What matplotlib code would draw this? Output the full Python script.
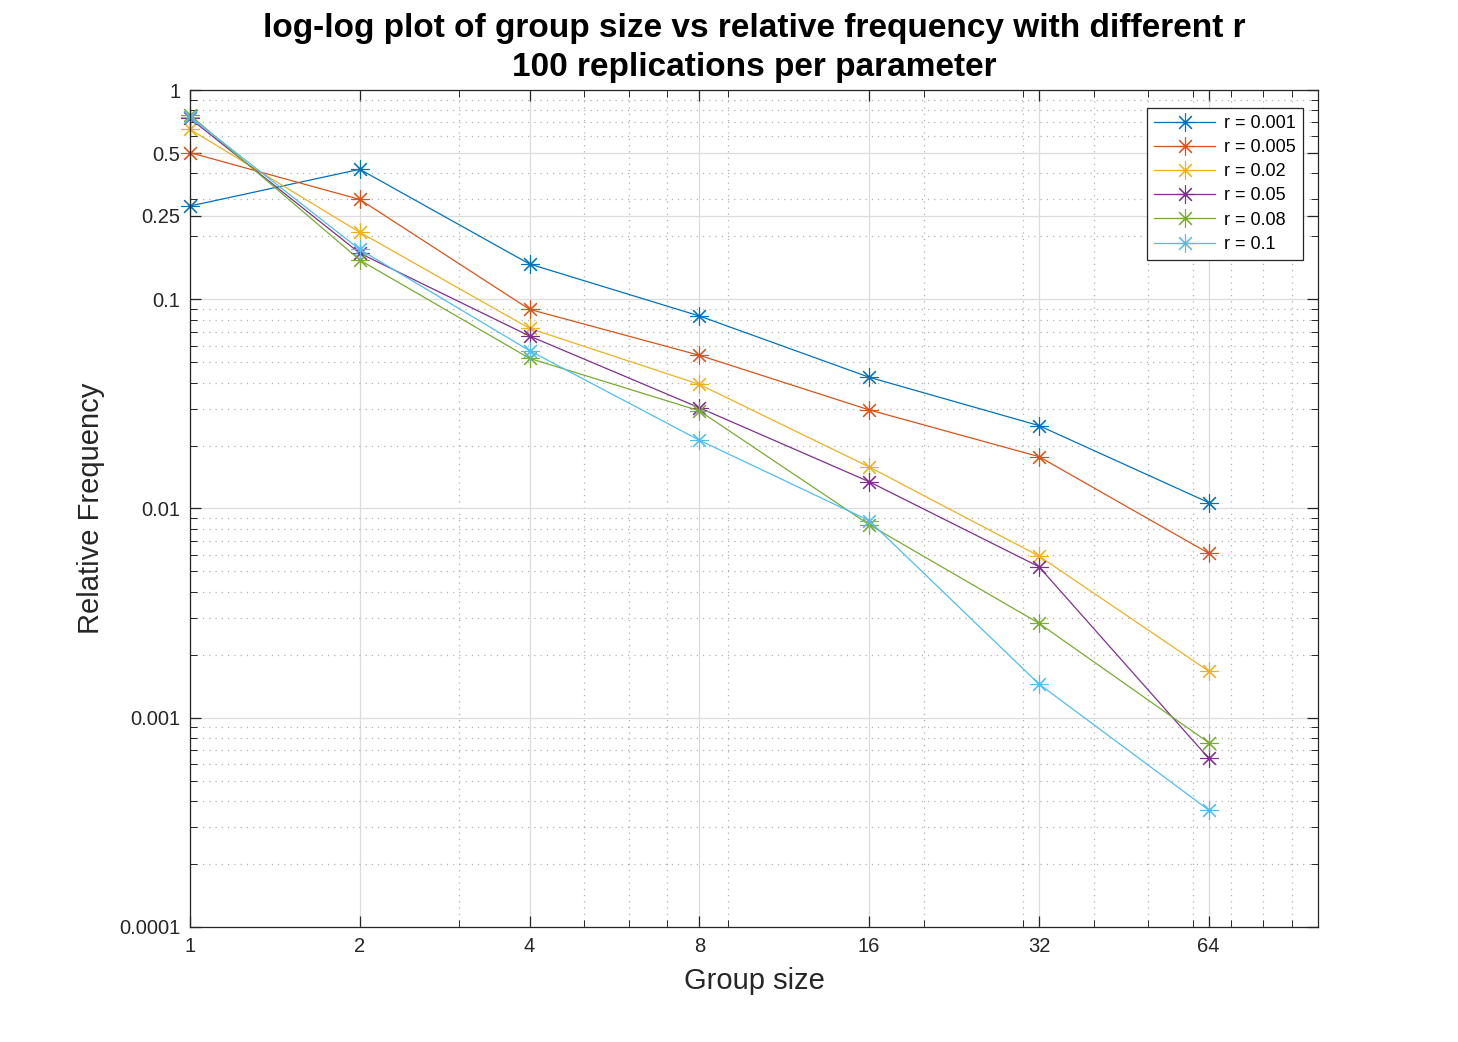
import matplotlib
matplotlib.use('Agg')
import matplotlib.pyplot as plt
from matplotlib.ticker import LogLocator, NullFormatter

plt.rcParams['font.family'] = ['Liberation Sans', 'DejaVu Sans']

group_size = [1, 2, 4, 8, 16, 32, 64]
r_labels = ['r = 0.001', 'r = 0.005', 'r = 0.02', 'r = 0.05', 'r = 0.08', 'r = 0.1']
freq_r0001 = [0.279, 0.418, 0.1474, 0.0832, 0.0424, 0.0249, 0.01067]
freq_r0005 = [0.502, 0.300, 0.0895, 0.0540, 0.0296, 0.0177, 0.00611]
freq_r002 = [0.649, 0.209, 0.0726, 0.0392, 0.0158, 0.00593, 0.00167]
freq_r005 = [0.732, 0.166, 0.0667, 0.0303, 0.01343, 0.00527, 0.00064]
freq_r008 = [0.760, 0.154, 0.0522, 0.0293, 0.00837, 0.00283, 0.00076]
freq_r01 = [0.746, 0.173, 0.0568, 0.0212, 0.00875, 0.00145, 0.000362]
series = [freq_r0001, freq_r0005, freq_r002, freq_r005, freq_r008, freq_r01]
colors = ['#0072BD', '#D95319', '#EDB120', '#7E2F8E', '#77AC30', '#4DBEEE']

ytick_vals = [0.0001, 0.001, 0.01, 0.1, 0.25, 0.5, 1]
ytick_labels = ['0.0001', '0.001', '0.01', '0.1', '0.25', '0.5', '1']

fig = plt.figure(figsize=(14.58, 10.42), dpi=100)
ax = fig.add_axes([0.1303, 0.1104, 0.7737, 0.8032])

for vals, lab, c in zip(series, r_labels, colors):
    ax.plot(group_size, vals, color=c, linewidth=0.9, marker=(8, 2, 0),
            markersize=13, markeredgewidth=0.8, label=lab, clip_on=False)

ax.set_xscale('log')
ax.set_yscale('log')
ax.set_xlim(1, 100)
ax.set_ylim(0.0001, 1)

ax.set_xticks(group_size)
ax.set_xticklabels([str(g) for g in group_size])
ax.set_yticks(ytick_vals)
ax.set_yticklabels(ytick_labels)
ax.xaxis.set_minor_locator(LogLocator(base=10, subs=range(2, 10)))
ax.yaxis.set_minor_locator(LogLocator(base=10, subs=range(2, 10)))
ax.xaxis.set_minor_formatter(NullFormatter())
ax.yaxis.set_minor_formatter(NullFormatter())

ax.tick_params(which='both', direction='in', top=True, right=True,
               color='#262626', labelcolor='#262626', labelsize=14.5)
ax.tick_params(which='major', length=8, width=0.9, pad=7)
ax.tick_params(which='minor', length=5, width=0.7)
for s in ax.spines.values():
    s.set_color('#262626')
    s.set_linewidth(0.9)

ax.grid(which='major', color='#dcdcdc', linestyle='-', linewidth=0.9)
ax.grid(which='minor', color='#b0b0b0', linestyle=(0, (1, 4)), linewidth=0.9)
ax.set_axisbelow(True)

ax.set_xlabel('Group size', fontsize=21, color='#262626', labelpad=8)
ax.set_ylabel('Relative Frequency', fontsize=21, color='#262626', labelpad=10)
ax.set_title('log-log plot of group size vs relative frequency with different r\n100 replications per parameter',
             fontsize=24, fontweight='bold', pad=10, linespacing=1.35)

leg = ax.legend(loc='upper right', bbox_to_anchor=(0.987, 0.979), fontsize=13,
                fancybox=False, framealpha=1, edgecolor='#262626',
                handlelength=3.4, labelspacing=0.4, borderpad=0.4,
                handletextpad=0.5, borderaxespad=0)
leg.get_frame().set_linewidth(0.9)

plt.savefig('out.png', dpi=100)
